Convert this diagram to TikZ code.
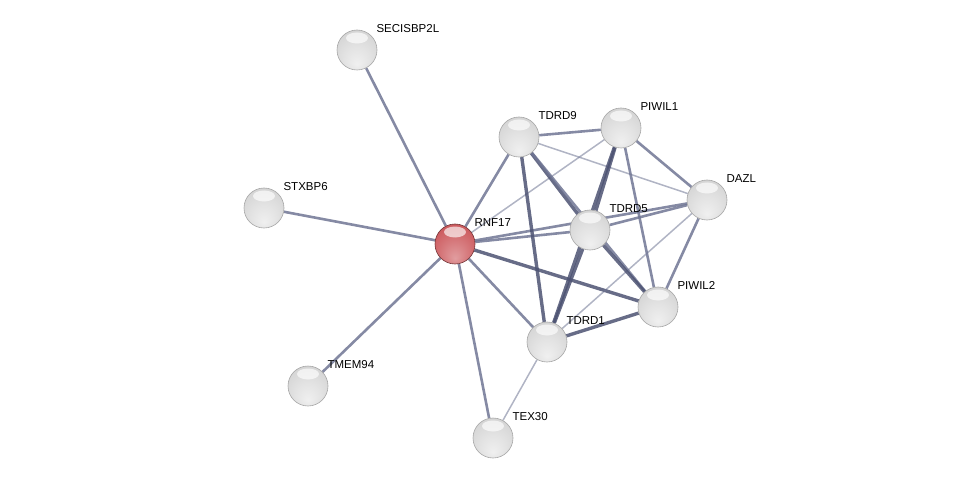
\documentclass[tikz,border=0pt]{standalone}
\usepackage{fontspec}
\setmainfont{Liberation Sans}
\usetikzlibrary{shapes.geometric}

\definecolor{linkcol}{RGB}{112,118,148}
\definecolor{linkdark}{RGB}{76,82,114}
\definecolor{querycol}{RGB}{205,92,96}

\pgfdeclareradialshading{glossy}{\pgfpoint{0bp}{-18bp}}{%
  color(0bp)=(gray!12); color(16bp)=(gray!22); color(30bp)=(gray!32);
  color(40bp)=(gray!40); color(46bp)=(gray!52); color(50bp)=(gray!72)}
\pgfdeclareradialshading{glossyred}{\pgfpoint{0bp}{-18bp}}{%
  color(0bp)=(querycol!60); color(16bp)=(querycol!82); color(30bp)=(querycol);
  color(40bp)=(querycol!92!black); color(46bp)=(querycol!78!black); color(50bp)=(querycol!55!black)}

\pgfdeclarelayer{background}
\pgfsetlayers{background,main}

\begin{document}
\begin{tikzpicture}[
    x=1pt, y=-1pt,
    every node/.style={font=\fontsize{11.5}{13}\selectfont},
    protein/.style={
        circle,
        draw=gray!70,
        line width=0.6pt,
        minimum size=40pt,
        inner sep=0pt,
        shading=glossy,
        path picture={
            \fill[white, opacity=0.65] ([yshift=-8pt]path picture bounding box.north)
                ellipse [x radius=11pt, y radius=5.5pt];
        }
    },
    query/.style={protein, shading=glossyred, draw=querycol!55!black},
    plabel/.style={anchor=base west, inner sep=0pt, xshift=5pt, yshift=3pt},
    link/.style={draw=linkcol, line width=2.6pt, opacity=0.85},
    weak/.style={draw=linkcol, line width=1.5pt, opacity=0.55},
    strong/.style={draw=linkdark, line width=3.4pt, opacity=0.85}
]
\useasboundingbox (0,0) rectangle (975,484);

% proteins
\node[query]   (rnf17) at (455,244) [label={[plabel]45:RNF17}] {};
\node[protein] (secis) at (357,50)  [label={[plabel]45:SECISBP2L}] {};
\node[protein] (stxbp6) at (264,208) [label={[plabel]45:STXBP6}] {};
\node[protein] (tmem94) at (308,386) [label={[plabel]45:TMEM94}] {};
\node[protein] (tex30) at (493,438) [label={[plabel]45:TEX30}] {};
\node[protein] (tdrd9) at (519,137) [label={[plabel]45:TDRD9}] {};
\node[protein] (piwil1) at (621,128) [label={[plabel]45:PIWIL1}] {};
\node[protein] (dazl) at (707,200) [label={[plabel]45:DAZL}] {};
\node[protein] (tdrd5) at (590,230) [label={[plabel]45:TDRD5}] {};
\node[protein] (piwil2) at (658,307) [label={[plabel]45:PIWIL2}] {};
\node[protein] (tdrd1) at (547,342) [label={[plabel]45:TDRD1}] {};

% interactions
\begin{pgfonlayer}{background}
\path
(rnf17) edge[link] (secis)
(rnf17) edge[link] (stxbp6)
(rnf17) edge[link] (tmem94)
(rnf17) edge[link] (tex30)
(rnf17) edge[link] (tdrd9)
(rnf17) edge[weak] (piwil1)
(rnf17) edge[link] (tdrd5)
(rnf17) edge[link] (dazl)
(rnf17) edge[strong] (piwil2)
(rnf17) edge[link] (tdrd1)

(tdrd9) edge[link] (piwil1)
(tdrd9) edge[weak] (dazl)
(tdrd9) edge[strong] (tdrd5)
(tdrd9) edge[strong] (tdrd1)
(tdrd9) edge[link] (piwil2)

(piwil1) edge[strong] (tdrd5)
(piwil1) edge[strong] (tdrd1)
(piwil1) edge[link] (dazl)
(piwil1) edge[link] (piwil2)

(dazl) edge[link] (tdrd5)
(dazl) edge[link] (piwil2)
(dazl) edge[weak] (tdrd1)

(tdrd5) edge[strong] (tdrd1)
(tdrd5) edge[strong] (piwil2)

(tdrd1) edge[strong] (piwil2)
(tdrd1) edge[weak] (tex30);
\end{pgfonlayer}

\end{tikzpicture}
\end{document}
